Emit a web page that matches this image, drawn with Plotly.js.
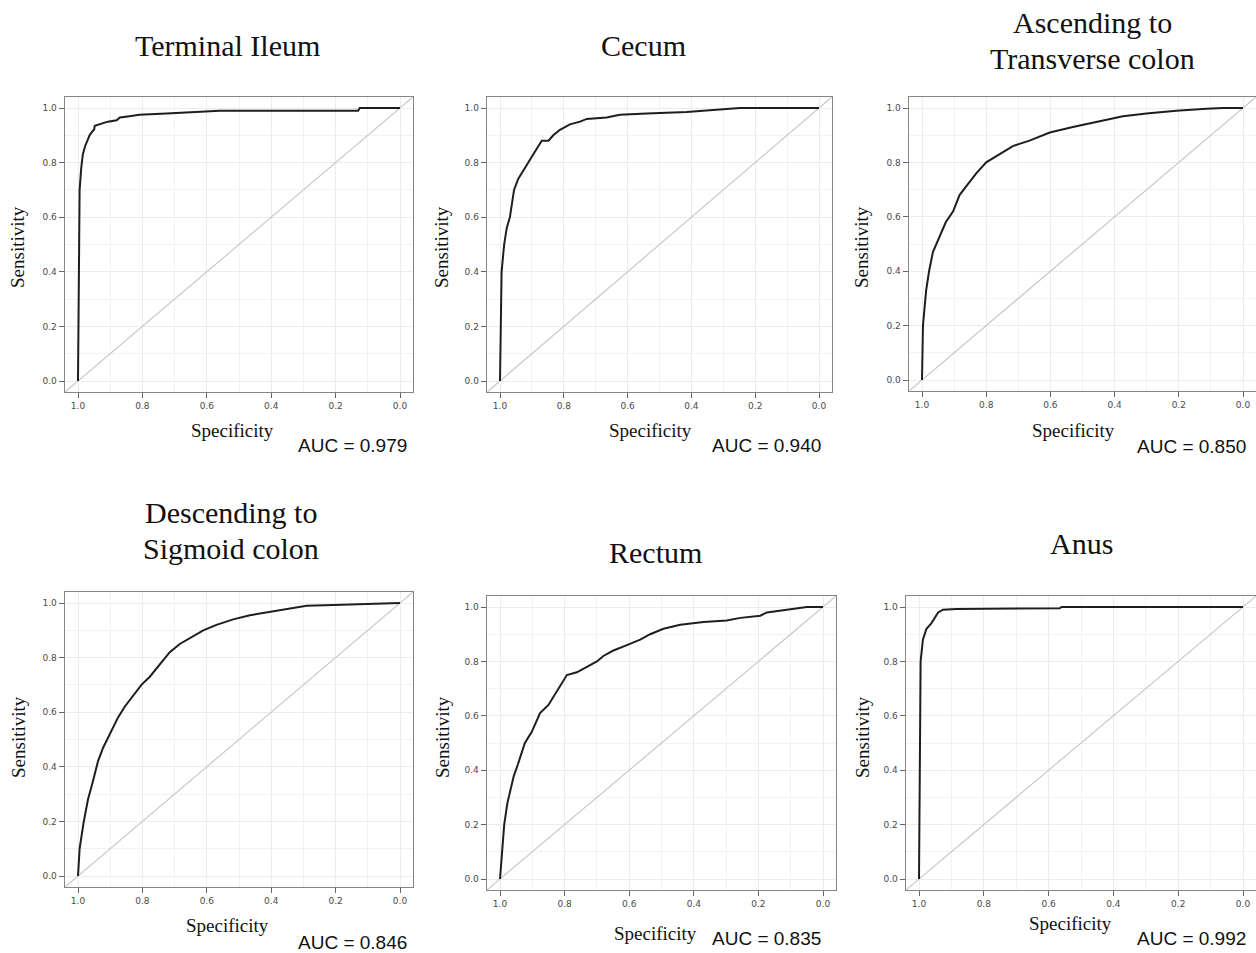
<!DOCTYPE html>
<html>
<head>
<meta charset="utf-8">
<script src="https://cdn.plot.ly/plotly-3.0.1.min.js"></script>
<style>html,body{margin:0;padding:0;background:#fff;}#chart{width:1256px;height:953px;}</style>
</head>
<body>
<div id="chart"></div>
<script>
// ---- data ----
const panelTitles = [["Terminal Ileum"], ["Cecum"], ["Ascending to", "Transverse colon"],
                     ["Descending to", "Sigmoid colon"], ["Rectum"], ["Anus"]];
const aucValues = ["0.979", "0.940", "0.850", "0.846", "0.835", "0.992"];

const specTerminalIleum = [1.0, 0.998, 0.997, 0.995, 0.99, 0.988, 0.985, 0.978, 0.972, 0.964, 0.955, 0.95, 0.948, 0.933, 0.92, 0.907, 0.88, 0.87, 0.84, 0.81, 0.725, 0.62, 0.56, 0.30, 0.13, 0.125, 0.0];
const sensTerminalIleum = [0.0, 0.3, 0.6, 0.7, 0.78, 0.8, 0.83, 0.86, 0.875, 0.9, 0.915, 0.92, 0.935, 0.94, 0.945, 0.95, 0.955, 0.965, 0.97, 0.975, 0.98, 0.985, 0.99, 0.99, 0.99, 1.0, 1.0];

const specCecum = [1.0, 0.998, 0.995, 0.987, 0.979, 0.969, 0.963, 0.956, 0.943, 0.932, 0.911, 0.896, 0.88, 0.869, 0.848, 0.833, 0.812, 0.781, 0.749, 0.728, 0.666, 0.624, 0.54, 0.415, 0.363, 0.31, 0.248, 0.0];
const sensCecum = [0.0, 0.2, 0.4, 0.5, 0.56, 0.6, 0.65, 0.7, 0.74, 0.76, 0.8, 0.83, 0.86, 0.88, 0.88, 0.9, 0.92, 0.94, 0.95, 0.96, 0.965, 0.975, 0.98, 0.985, 0.99, 0.995, 1.0, 1.0];

const specAscending = [1.0, 0.997, 0.987, 0.978, 0.966, 0.945, 0.926, 0.903, 0.883, 0.857, 0.831, 0.8, 0.758, 0.717, 0.665, 0.602, 0.53, 0.457, 0.374, 0.301, 0.208, 0.114, 0.062, 0.0];
const sensAscending = [0.0, 0.2, 0.33, 0.4, 0.47, 0.53, 0.58, 0.62, 0.68, 0.72, 0.76, 0.8, 0.83, 0.86, 0.88, 0.91, 0.93, 0.95, 0.97, 0.98, 0.99, 0.997, 1.0, 1.0];

const specDescending = [1.0, 0.995, 0.982, 0.969, 0.953, 0.938, 0.922, 0.902, 0.876, 0.855, 0.829, 0.803, 0.777, 0.756, 0.731, 0.715, 0.684, 0.642, 0.611, 0.57, 0.518, 0.466, 0.394, 0.342, 0.29, 0.207, 0.104, 0.0];
const sensDescending = [0.0, 0.1, 0.2, 0.28, 0.35, 0.42, 0.47, 0.52, 0.58, 0.62, 0.66, 0.7, 0.73, 0.76, 0.8, 0.82, 0.85, 0.88, 0.9, 0.92, 0.94, 0.955, 0.97, 0.98, 0.99, 0.993, 0.997, 1.0];

const specRectum = [1.0, 0.993, 0.987, 0.977, 0.967, 0.957, 0.945, 0.933, 0.923, 0.902, 0.886, 0.876, 0.85, 0.83, 0.814, 0.793, 0.762, 0.731, 0.7, 0.68, 0.649, 0.607, 0.566, 0.535, 0.494, 0.442, 0.37, 0.298, 0.256, 0.194, 0.174, 0.112, 0.05, 0.0];
const sensRectum = [0.0, 0.1, 0.2, 0.28, 0.33, 0.38, 0.42, 0.46, 0.5, 0.54, 0.58, 0.61, 0.64, 0.68, 0.71, 0.75, 0.76, 0.78, 0.8, 0.82, 0.84, 0.86, 0.88, 0.9, 0.92, 0.935, 0.945, 0.95, 0.96, 0.968, 0.98, 0.99, 1.0, 1.0];

const specAnus = [1.0, 0.998, 0.997, 0.995, 0.988, 0.977, 0.962, 0.952, 0.941, 0.926, 0.885, 0.566, 0.56, 0.0];
const sensAnus = [0.0, 0.3, 0.6, 0.8, 0.88, 0.92, 0.94, 0.96, 0.98, 0.99, 0.993, 0.995, 1.0, 1.0];

const tickVals = [0, 0.2, 0.4, 0.6, 0.8, 1.0];
const tickLabels = ["0.0", "0.2", "0.4", "0.6", "0.8", "1.0"];
const chanceX = [1.04, -0.04];

// ---- layout geometry (pixels) ----
const W = 1256, H = 953;
const specs = [specTerminalIleum, specCecum, specAscending, specDescending, specRectum, specAnus];
const sens = [sensTerminalIleum, sensCecum, sensAscending, sensDescending, sensRectum, sensAnus];
// data pixel anchors: [x at spec=1, x at spec=0, y at sens=1, y at sens=0]
const anchors = [
  [78, 400, 108, 381], [500, 819, 108, 381], [922, 1243, 108, 380],
  [78, 400, 603, 876], [500, 823, 607, 879], [919, 1243, 607, 879]
];
const titleX = [228, 643, 1092, 231, 655, 1081];
const titleY = [45, 45, 22, 512, 552, 543];
const TITLE_LINE = 36;
const specPos = [[233, 430], [650, 430], [1073, 430], [228, 925], [655, 933], [1070, 923]];
const sensPos = [[18, 247], [442, 247], [862, 247], [18, 737], [442, 737], [862, 737]];
const aucPos = [[352, 445], [767, 445], [1191, 446], [352, 942], [767, 938], [1191, 938]];

const SERIF = "Liberation Serif, Times New Roman, serif";
const SANS = "Liberation Sans, Arial, sans-serif";

const traces = [];
const layout = {
  width: W, height: H, margin: {l: 0, r: 0, t: 0, b: 0, pad: 0},
  paper_bgcolor: "#fff", plot_bgcolor: "#fff", showlegend: false,
  annotations: []
};
const px = x => x / W, py = y => 1 - y / H;

for (let i = 0; i < 6; i++) {
  const n = i === 0 ? "" : String(i + 1);
  const [x1, x0, y1, y0] = anchors[i];
  const sx = x0 - x1, sy = y0 - y1;
  const left = x1 - 0.04 * sx, right = x0 + 0.04 * sx;
  const top = y1 - 0.04 * sy, bottom = y0 + 0.04 * sy;
  const axCommon = {
    tickvals: tickVals, ticktext: tickLabels, ticks: "outside", ticklen: 5, tickwidth: 1,
    tickcolor: "#666", tickfont: {family: "DejaVu Sans, sans-serif", size: 9, color: "#4a4a4a"},
    showline: true, linecolor: "#858585", linewidth: 1.5, mirror: true,
    showgrid: true, gridcolor: "#ececec", gridwidth: 1, zeroline: false,
    minor: {dtick: 0.1, tick0: 0, showgrid: true, gridcolor: "#f2f2f2", ticks: ""},
    fixedrange: true
  };
  layout["xaxis" + n] = Object.assign({}, axCommon, {
    domain: [px(left), px(right)], range: [1.04, -0.04], anchor: "y" + n
  });
  layout["yaxis" + n] = Object.assign({}, axCommon, {
    domain: [py(bottom), py(top)], range: [-0.04, 1.04], anchor: "x" + n
  });
  traces.push({
    x: chanceX, y: chanceX.map(v => 1 - v), xaxis: "x" + n, yaxis: "y" + n,
    mode: "lines", line: {color: "#c8c8c8", width: 1.2}, hoverinfo: "skip"
  });
  traces.push({
    x: specs[i], y: sens[i], xaxis: "x" + n, yaxis: "y" + n,
    mode: "lines", line: {color: "#1e1e1e", width: 2}
  });
  const ann = (text, pos, font, extra) => Object.assign({
    text: text, x: px(pos[0]), y: py(pos[1]), xref: "paper", yref: "paper",
    xanchor: "center", yanchor: "middle", showarrow: false, font: font
  }, extra || {});
  panelTitles[i].forEach((line, k) => {
    layout.annotations.push(ann(line, [titleX[i], titleY[i] + k * TITLE_LINE], {family: SERIF, size: 30, color: "#111"}));
  });
  layout.annotations.push(ann("Specificity", specPos[i], {family: SERIF, size: 19, color: "#111"}));
  layout.annotations.push(ann("Sensitivity", sensPos[i], {family: SERIF, size: 19, color: "#111"}, {textangle: -90}));
  layout.annotations.push(ann("AUC = " + aucValues[i], aucPos[i], {family: SANS, size: 19, color: "#111"}));
}

Plotly.newPlot("chart", traces, layout, {displayModeBar: false, staticPlot: true});
</script>
</body>
</html>
